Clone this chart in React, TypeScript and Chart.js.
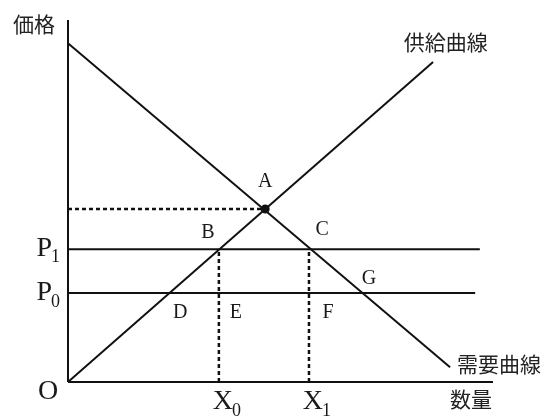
import React, { useEffect, useRef } from "react";
import { Chart, registerables } from "chart.js";

Chart.register(...registerables);

// Quantity (x) and price (y) in abstract units, 0..100
const supplyQ = [0, 85.9];
const supplyP = [0, 88.4];
const demandQ = [0, 89.9];
const demandP = [93.6, 4.1];
const priceP1 = 36.7;
const priceP0 = 24.6;
const p1End = 96.9;
const p0End = 95.8;
const qX0 = 35.5;
const qX1 = 56.7;
const eqQ = 46.4;
const eqP = 47.8;

const pointLabels = ["A", "B", "C", "D", "E", "F", "G"];
const pointLabelQ = [46.4, 32.9, 59.8, 26.4, 39.5, 61.2, 70.8];
const pointLabelP = [55.2, 41.2, 42.0, 19.1, 19.1, 19.1, 28.5];

const axisTexts = ["価格", "数量", "供給曲線", "需要曲線"];
const axisTextQ = [-8, 94.8, 88.9, 101.4];
const axisTextP = [98.9, -4.7, 93.9, 5.0];

const INK = "#111";
const SERIF = '"Liberation Serif", "DejaVu Serif", serif';
const CJK = '"Noto Sans CJK JP", "Noto Sans CJK SC", sans-serif';

const line = (pts: { x: number; y: number }[], dashed = false) => ({
  data: pts,
  borderColor: INK,
  backgroundColor: INK,
  borderWidth: dashed ? 2.5 : 2,
  borderDash: dashed ? [4, 3] : [],
  pointRadius: 0,
  showLine: true,
  fill: false,
  clip: false as any,
});

const labelPlugin = {
  id: "econLabels",
  afterDatasetsDraw(chart: any) {
    const ctx = chart.ctx as CanvasRenderingContext2D;
    const xs = chart.scales.x;
    const ys = chart.scales.y;
    const px = (v: number) => xs.getPixelForValue(v);
    const py = (v: number) => ys.getPixelForValue(v);
    ctx.save();
    ctx.fillStyle = "#1a1a1a";
    ctx.textAlign = "center";
    ctx.textBaseline = "middle";
    ctx.font = `20px ${SERIF}`;
    pointLabels.forEach((t, i) => ctx.fillText(t, px(pointLabelQ[i]), py(pointLabelP[i])));

    // big letters with subscripts
    const sub = (main: string, s: string, x: number, y: number) => {
      ctx.font = `28px ${SERIF}`;
      ctx.textAlign = "center";
      ctx.fillText(main, x, y);
      const w = ctx.measureText(main).width;
      ctx.font = `18px ${SERIF}`;
      ctx.textAlign = "left";
      ctx.fillText(s, x + w / 2 - 1, y + 9);
    };
    sub("P", "1", px(-4.9) - 3, py(priceP1) - 1);
    sub("P", "0", px(-4.9) - 3, py(priceP0));
    sub("X", "0", px(qX0) + 4, py(-5.5));
    sub("X", "1", px(qX1) + 4, py(-5.5));
    ctx.font = `28px ${SERIF}`;
    ctx.textAlign = "center";
    ctx.fillText("O", px(-4.7), py(-2.8));

    ctx.fillStyle = "#222";
    ctx.font = `21px ${CJK}`;
    axisTexts.forEach((t, i) => ctx.fillText(t, px(axisTextQ[i]), py(axisTextP[i])));
    ctx.restore();
  },
};

export default function App() {
  const ref = useRef<HTMLCanvasElement | null>(null);
  useEffect(() => {
    document.body.style.margin = "0";
    const canvas = ref.current!;
    const chart = new Chart(canvas, {
      type: "scatter",
      data: {
        datasets: [
          line([{ x: 0, y: 0 }, { x: 0, y: 100 }]),
          line([{ x: 0, y: 0 }, { x: 100, y: 0 }]),
          line(supplyQ.map((q, i) => ({ x: q, y: supplyP[i] }))),
          line(demandQ.map((q, i) => ({ x: q, y: demandP[i] }))),
          line([{ x: 0, y: priceP1 }, { x: p1End, y: priceP1 }]),
          line([{ x: 0, y: priceP0 }, { x: p0End, y: priceP0 }]),
          line([{ x: 0, y: eqP }, { x: eqQ, y: eqP }], true),
          line([{ x: qX0, y: 0 }, { x: qX0, y: priceP1 }], true),
          line([{ x: qX1, y: 0 }, { x: qX1, y: priceP1 }], true),
          {
            data: [{ x: eqQ, y: eqP }],
            pointRadius: 4.5,
            backgroundColor: INK,
            borderColor: INK,
            borderWidth: 0,
            clip: false as any,
          },
        ],
      },
      options: {
        responsive: false,
        animation: false,
        layout: { padding: { left: 68, right: 50, top: 20, bottom: 35 } },
        plugins: { legend: { display: false }, tooltip: { enabled: false } },
        scales: {
          x: { type: "linear", min: 0, max: 100, display: false },
          y: { type: "linear", min: 0, max: 100, display: false },
        },
      },
      plugins: [labelPlugin],
    });
    return () => chart.destroy();
  }, []);
  return <canvas ref={ref} width={543} height={417} style={{ display: "block" }} />;
}
